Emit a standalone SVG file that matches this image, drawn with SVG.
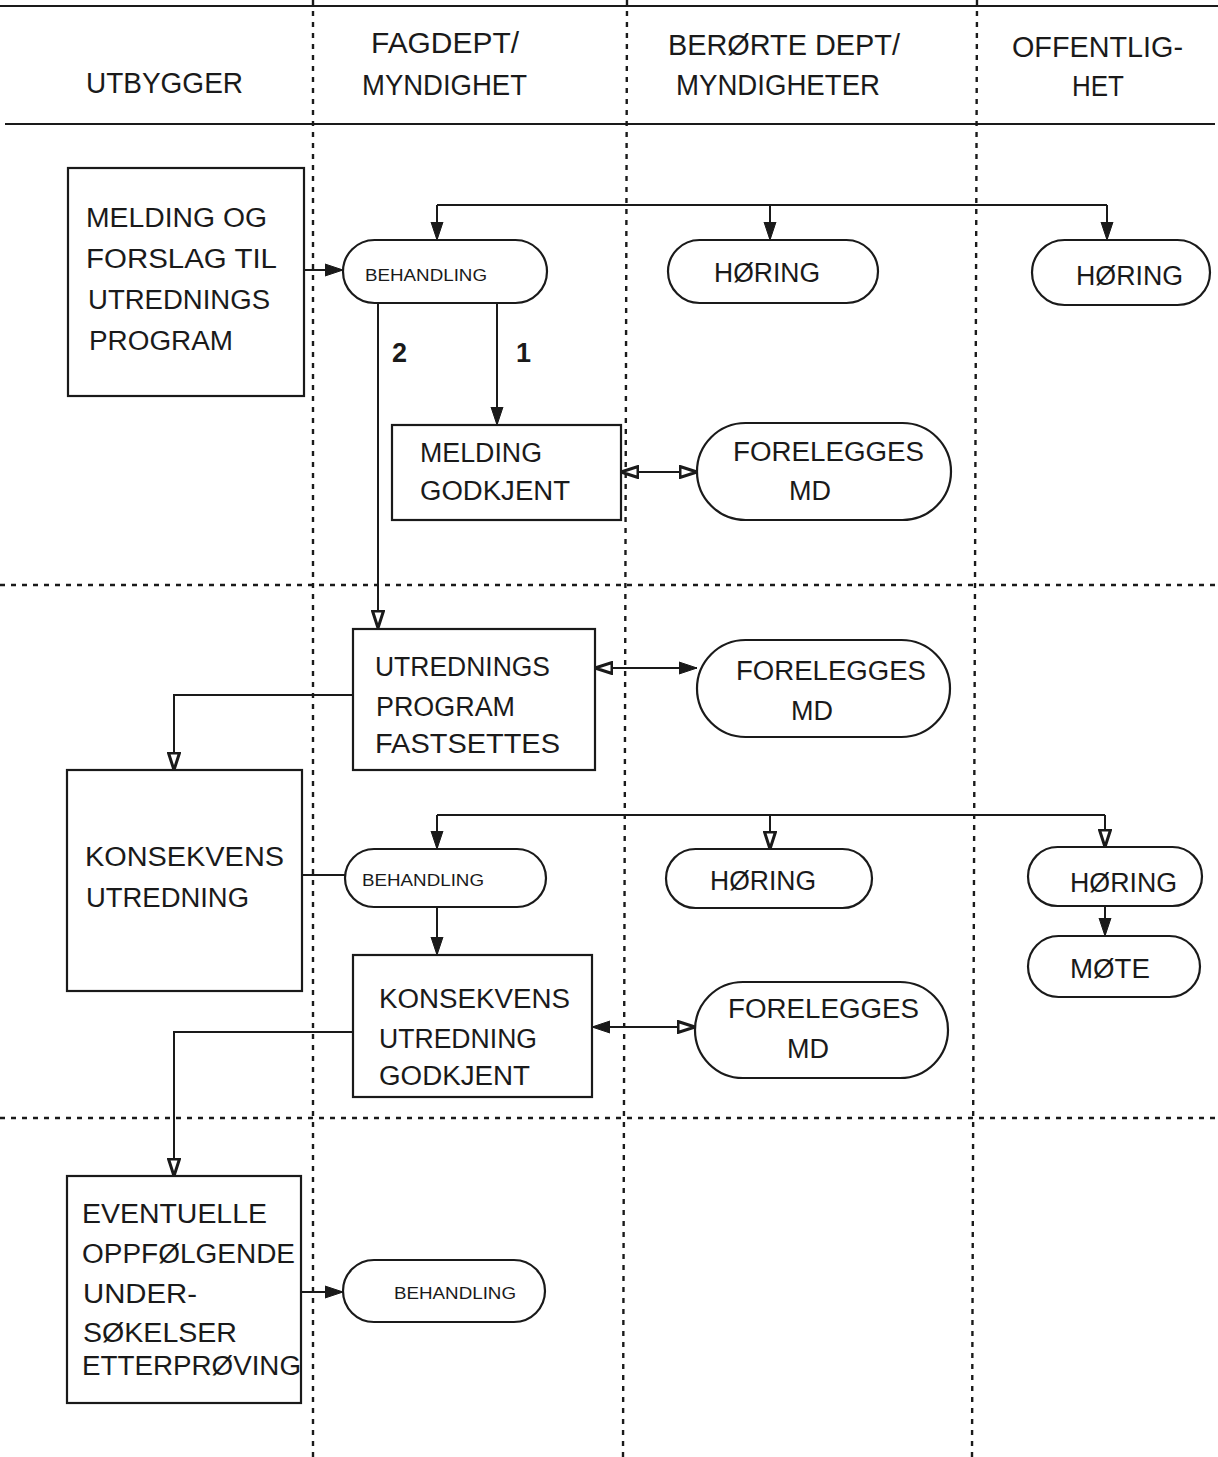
<svg xmlns="http://www.w3.org/2000/svg" width="1218" height="1457" viewBox="0 0 1218 1457">
<defs>
<marker id="af" markerUnits="userSpaceOnUse" markerWidth="20" markerHeight="14" refX="18" refY="7" orient="auto-start-reverse">
<path d="M0,1 L18,7 L0,13 Z" fill="#1a1a1a" stroke="#1a1a1a" stroke-width="1"/>
</marker>
<marker id="ao" markerUnits="userSpaceOnUse" markerWidth="20" markerHeight="14" refX="18" refY="7" orient="auto-start-reverse">
<path d="M1,1.5 L18,7 L1,12.5 Z" fill="#fff" stroke="#1a1a1a" stroke-width="3"/>
</marker>
</defs>
<style>
.bg{fill:#fff}
.grid{stroke:#1a1a1a;stroke-width:2.4;stroke-dasharray:5 6;fill:none}
.rule{stroke:#1a1a1a;stroke-width:2.2;fill:none}
.box{fill:#fff;stroke:#1a1a1a;stroke-width:2.2}
.con{stroke:#1a1a1a;stroke-width:2;fill:none}
.t{font-family:"Liberation Sans",Arial,sans-serif;font-size:27px;fill:#1a1a1a}
.h{font-family:"Liberation Sans",Arial,sans-serif;font-size:30px;fill:#1a1a1a}
.s{font-family:"Liberation Sans",Arial,sans-serif;font-size:17px;fill:#1a1a1a}
.n{font-family:"Liberation Sans",Arial,sans-serif;font-size:27px;font-weight:bold;fill:#1a1a1a}
</style>
<rect class="bg" x="0" y="0" width="1218" height="1457"/>
<g id="grid">
<line class="rule" x1="0" y1="6" x2="1218" y2="6"/>
<line class="rule" x1="5" y1="124" x2="1215" y2="124"/>
<line class="grid" x1="313" y1="0" x2="313" y2="1457"/>
<line class="grid" x1="627" y1="0" x2="623" y2="1457"/>
<line class="grid" x1="977" y1="0" x2="972" y2="1457"/>
<line class="grid" x1="0" y1="585" x2="1218" y2="585"/>
<line class="grid" x1="0" y1="1118" x2="1218" y2="1118"/>
</g>
<g id="header">
<text class="h" x="86" y="93" textLength="157" lengthAdjust="spacingAndGlyphs">UTBYGGER</text>
<text class="h" x="371" y="53" textLength="148" lengthAdjust="spacingAndGlyphs">FAGDEPT/</text>
<text class="h" x="362" y="95" textLength="165" lengthAdjust="spacingAndGlyphs">MYNDIGHET</text>
<text class="h" x="668" y="55" textLength="232" lengthAdjust="spacingAndGlyphs">BERØRTE DEPT/</text>
<text class="h" x="676" y="95" textLength="204" lengthAdjust="spacingAndGlyphs">MYNDIGHETER</text>
<text class="h" x="1012" y="57" textLength="171" lengthAdjust="spacingAndGlyphs">OFFENTLIG-</text>
<text class="h" x="1072" y="96" textLength="52" lengthAdjust="spacingAndGlyphs">HET</text>
</g>
<g id="connectors">
<path class="con" d="M304,270 H343" marker-end="url(#af)"/>
<path class="con" d="M437,205 H1107"/>
<path class="con" d="M437,205 V240" marker-end="url(#af)"/>
<path class="con" d="M770,205 V240" marker-end="url(#af)"/>
<path class="con" d="M1107,205 V240" marker-end="url(#af)"/>
<path class="con" d="M378,303 V628" marker-end="url(#ao)"/>
<path class="con" d="M497,303 V425" marker-end="url(#af)"/>
<path class="con" d="M621,472 H697" marker-start="url(#ao)" marker-end="url(#ao)"/>
<path class="con" d="M595,668 H697" marker-start="url(#ao)" marker-end="url(#af)"/>
<path class="con" d="M353,695 H174 V770" marker-end="url(#ao)"/>
<path class="con" d="M302,875 H345"/>
<path class="con" d="M437,815 H1105"/>
<path class="con" d="M437,815 V849" marker-end="url(#af)"/>
<path class="con" d="M770,815 V849" marker-end="url(#ao)"/>
<path class="con" d="M1105,815 V847" marker-end="url(#ao)"/>
<path class="con" d="M1105,906 V936" marker-end="url(#af)"/>
<path class="con" d="M437,907 V955" marker-end="url(#af)"/>
<path class="con" d="M592,1027 H695" marker-start="url(#af)" marker-end="url(#ao)"/>
<path class="con" d="M353,1032 H174 V1176" marker-end="url(#ao)"/>
<path class="con" d="M301,1292 H343" marker-end="url(#af)"/>
<text class="n" x="392" y="362">2</text>
<text class="n" x="516" y="362">1</text>
</g>
<g id="melding-forslag">
<rect class="box" x="68" y="168" width="236" height="228"/>
<text class="t" x="86" y="227" textLength="181" lengthAdjust="spacingAndGlyphs">MELDING OG</text>
<text class="t" x="86" y="268" textLength="191" lengthAdjust="spacingAndGlyphs">FORSLAG TIL</text>
<text class="t" x="88" y="309" textLength="182" lengthAdjust="spacingAndGlyphs">UTREDNINGS</text>
<text class="t" x="89" y="350" textLength="144" lengthAdjust="spacingAndGlyphs">PROGRAM</text>
</g>
<g id="behandling-1">
<rect class="box" x="343" y="240" width="204" height="63" rx="31.5"/>
<text class="s" x="365" y="281" textLength="122" lengthAdjust="spacingAndGlyphs">BEHANDLING</text>
</g>
<g id="horing-1">
<rect class="box" x="668" y="240" width="210" height="63" rx="31.5"/>
<text class="t" x="714" y="282" textLength="106" lengthAdjust="spacingAndGlyphs">HØRING</text>
</g>
<g id="horing-2">
<rect class="box" x="1032" y="240" width="178" height="65" rx="32.5"/>
<text class="t" x="1076" y="285" textLength="107" lengthAdjust="spacingAndGlyphs">HØRING</text>
</g>
<g id="melding-godkjent">
<rect class="box" x="392" y="425" width="229" height="95"/>
<text class="t" x="420" y="462" textLength="122" lengthAdjust="spacingAndGlyphs">MELDING</text>
<text class="t" x="420" y="500" textLength="150" lengthAdjust="spacingAndGlyphs">GODKJENT</text>
</g>
<g id="forelegges-1">
<rect class="box" x="697" y="423" width="254" height="97" rx="48.5"/>
<text class="t" x="733" y="461" textLength="191" lengthAdjust="spacingAndGlyphs">FORELEGGES</text>
<text class="t" x="789" y="500" textLength="42" lengthAdjust="spacingAndGlyphs">MD</text>
</g>
<g id="utredningsprogram">
<rect class="box" x="353" y="629" width="242" height="141"/>
<text class="t" x="375" y="676" textLength="175" lengthAdjust="spacingAndGlyphs">UTREDNINGS</text>
<text class="t" x="376" y="716" textLength="139" lengthAdjust="spacingAndGlyphs">PROGRAM</text>
<text class="t" x="375" y="753" textLength="185" lengthAdjust="spacingAndGlyphs">FASTSETTES</text>
</g>
<g id="forelegges-2">
<rect class="box" x="697" y="640" width="253" height="97" rx="48.5"/>
<text class="t" x="736" y="680" textLength="190" lengthAdjust="spacingAndGlyphs">FORELEGGES</text>
<text class="t" x="791" y="720" textLength="42" lengthAdjust="spacingAndGlyphs">MD</text>
</g>
<g id="konsekvensutredning">
<rect class="box" x="67" y="770" width="235" height="221"/>
<text class="t" x="85" y="866" textLength="199" lengthAdjust="spacingAndGlyphs">KONSEKVENS</text>
<text class="t" x="86" y="907" textLength="163" lengthAdjust="spacingAndGlyphs">UTREDNING</text>
</g>
<g id="behandling-2">
<rect class="box" x="345" y="849" width="201" height="58" rx="29"/>
<text class="s" x="362" y="886" textLength="122" lengthAdjust="spacingAndGlyphs">BEHANDLING</text>
</g>
<g id="horing-3">
<rect class="box" x="666" y="849" width="206" height="59" rx="29.5"/>
<text class="t" x="710" y="890" textLength="106" lengthAdjust="spacingAndGlyphs">HØRING</text>
</g>
<g id="horing-4">
<rect class="box" x="1028" y="847" width="174" height="59" rx="29.5"/>
<text class="t" x="1070" y="892" textLength="107" lengthAdjust="spacingAndGlyphs">HØRING</text>
</g>
<g id="mote">
<rect class="box" x="1028" y="936" width="172" height="61" rx="30.5"/>
<text class="t" x="1070" y="978" textLength="80" lengthAdjust="spacingAndGlyphs">MØTE</text>
</g>
<g id="konsekvens-godkjent">
<rect class="box" x="353" y="955" width="239" height="142"/>
<text class="t" x="379" y="1008" textLength="191" lengthAdjust="spacingAndGlyphs">KONSEKVENS</text>
<text class="t" x="379" y="1048" textLength="158" lengthAdjust="spacingAndGlyphs">UTREDNING</text>
<text class="t" x="379" y="1085" textLength="151" lengthAdjust="spacingAndGlyphs">GODKJENT</text>
</g>
<g id="forelegges-3">
<rect class="box" x="695" y="982" width="253" height="96" rx="48"/>
<text class="t" x="728" y="1018" textLength="191" lengthAdjust="spacingAndGlyphs">FORELEGGES</text>
<text class="t" x="787" y="1058" textLength="42" lengthAdjust="spacingAndGlyphs">MD</text>
</g>
<g id="eventuelle">
<rect class="box" x="67" y="1176" width="234" height="227"/>
<text class="t" x="82" y="1223" textLength="185" lengthAdjust="spacingAndGlyphs">EVENTUELLE</text>
<text class="t" x="82" y="1263" textLength="213" lengthAdjust="spacingAndGlyphs">OPPFØLGENDE</text>
<text class="t" x="83" y="1303" textLength="114" lengthAdjust="spacingAndGlyphs">UNDER-</text>
<text class="t" x="83" y="1342" textLength="154" lengthAdjust="spacingAndGlyphs">SØKELSER</text>
<text class="t" x="82" y="1375" textLength="219" lengthAdjust="spacingAndGlyphs">ETTERPRØVING</text>
</g>
<g id="behandling-3">
<rect class="box" x="343" y="1260" width="202" height="62" rx="31"/>
<text class="s" x="394" y="1299" textLength="122" lengthAdjust="spacingAndGlyphs">BEHANDLING</text>
</g>
</svg>
